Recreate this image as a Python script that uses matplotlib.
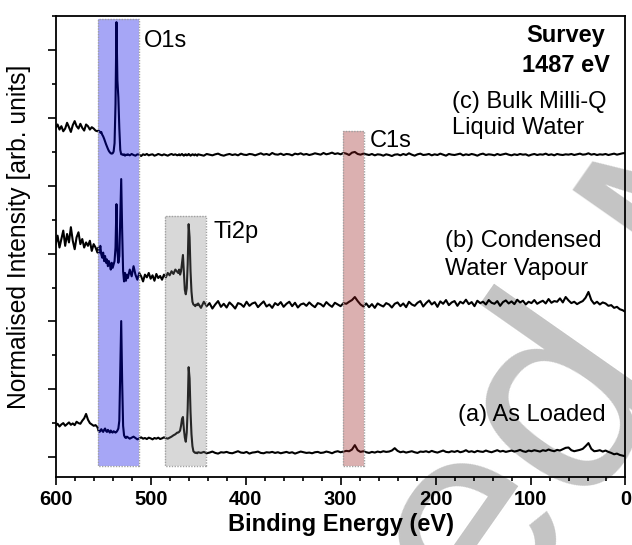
import numpy as np
import matplotlib.pyplot as plt
from matplotlib.patches import Rectangle
from matplotlib.ticker import MultipleLocator

plt.rcParams['font.family'] = ['Liberation Sans', 'DejaVu Sans']

# --- Binding energy grid (eV), denser around the O1s and Ti2p peaks ---
energy = np.array(list(range(600, 555, -2)) + list(range(555, 524, -1)) +
                  list(range(524, 471, -2)) + list(range(471, 450, -1)) +
                  list(range(450, -1, -3)), dtype=float)

# --- Spectra, relative to their own baseline (arb. units) ---
as_loaded = [
    # 600 - 556
    0.80, 0.86, 0.78, 0.84, 0.88, 0.80, 0.85, 0.90, 0.83, 0.87, 0.82, 0.92,
    0.88, 0.86, 0.95, 1.02, 1.15, 0.98, 0.88, 0.84, 0.80, 0.82, 0.76,
    # 555 - 525
    0.66, 0.62, 0.64, 0.70, 0.66, 0.62, 0.68, 0.72, 0.65, 0.62, 0.68, 0.64,
    0.60, 0.66, 0.62, 0.60, 0.64, 0.62, 0.60, 0.62, 0.66, 0.72, 0.95, 2.40,
    3.89, 2.10, 0.80, 0.52, 0.46, 0.44, 0.48,
    # 524 - 472
    0.46, 0.42, 0.45, 0.48, 0.44, 0.40, 0.43, 0.46, 0.42, 0.44, 0.41, 0.45,
    0.43, 0.40, 0.44, 0.42, 0.45, 0.41, 0.43, 0.46, 0.44, 0.42, 0.45, 0.48,
    0.52, 0.55, 0.60,
    # 471 - 451
    0.60, 0.62, 0.66, 0.80, 1.00, 1.06, 0.70, 0.45, 0.33, 0.60, 1.30, 2.53,
    2.20, 1.20, 0.55, 0.20, 0.05, 0.02, 0.00, 0.01, -0.01,
    # 450 - 0
    0.02, 0.00, 0.03, -0.01, 0.01, 0.04, 0.00, -0.02, 0.02, 0.01,
    0.03, 0.00, -0.01, 0.02, 0.05, 0.01, 0.00, 0.03, -0.02, 0.01,
    0.02, 0.04, 0.00, -0.01, 0.02, 0.01, 0.03, 0.00, 0.02, -0.01,
    0.01, 0.03, 0.00, 0.02, -0.02, 0.01, 0.04, 0.02, 0.00, 0.01,
    -0.01, 0.02, 0.03, 0.00, 0.01, 0.04, 0.02, -0.01, 0.03, 0.05,
    0.02, 0.04, 0.06, 0.05, 0.10, 0.23, 0.08, 0.03, 0.05, 0.02,
    0.00, 0.03, 0.01, 0.04, 0.02, 0.05, 0.03, 0.04, 0.07, 0.14,
    0.06, 0.02, 0.04, 0.01, 0.03, 0.05, 0.02, 0.00, 0.04, 0.03,
    0.05, 0.02, 0.06, 0.03, 0.01, 0.04, 0.07, 0.03, 0.02, 0.05,
    0.03, 0.06, 0.02, 0.04, 0.08, 0.03, 0.05, 0.02, 0.06, 0.04,
    0.03, 0.07, 0.04, 0.02, 0.05, 0.08, 0.04, 0.06, 0.03, 0.05,
    0.07, 0.04, 0.06, 0.09, 0.05, 0.03, 0.07, 0.05, 0.08, 0.06,
    0.04, 0.08, 0.06, 0.10, 0.07, 0.05, 0.09, 0.07, 0.11, 0.15,
    0.16, 0.08, 0.05, 0.07, 0.09, 0.12, 0.20, 0.29, 0.12, 0.05,
    0.06, 0.08, 0.04, 0.07, 0.03, 0.00, -0.04, -0.02, -0.06, -0.08, -0.10,
]

condensed_vapour = [
    # 600 - 556
    1.80, 2.05, 1.70, 1.95, 2.20, 1.75, 2.10, 1.85, 2.30, 1.90, 1.65, 2.00,
    2.15, 1.80, 1.95, 1.70, 1.85, 1.75, 1.90, 1.60, 1.80, 1.70, 1.55,
    # 555 - 525
    1.70, 1.55, 1.75, 1.50, 1.40, 1.55, 1.30, 1.45, 1.25, 1.35, 1.15, 1.30,
    1.20, 1.05, 1.25, 1.10, 1.20, 1.30, 1.70, 2.98, 1.60, 1.25, 1.45, 2.60,
    3.72, 2.20, 1.00, 0.70, 0.95, 0.72, 0.90,
    # 524 - 472
    0.80, 1.05, 0.85, 1.15, 0.90, 0.75, 0.95, 0.85, 0.70, 0.90, 0.82, 0.95,
    0.78, 0.88, 0.72, 0.92, 0.80, 0.86, 0.75, 0.90, 0.82, 0.95, 0.88, 1.00,
    0.92, 1.05, 0.98,
    # 471 - 451
    0.95, 1.05, 0.90, 1.00, 1.25, 1.48, 0.95, 0.45, 0.32, 0.50, 1.20, 2.39,
    2.00, 1.00, 0.40, 0.10, 0.02, 0.00, -0.03, 0.02, 0.00,
    # 450 - 0
    0.05, -0.08, 0.10, -0.03, 0.06, -0.10, 0.02, 0.12, -0.05, 0.04,
    -0.07, 0.08, 0.00, -0.10, 0.06, 0.03, -0.05, 0.10, -0.02, 0.05,
    0.08, -0.06, 0.03, 0.11, -0.04, 0.02, -0.08, 0.06, 0.00, 0.09,
    -0.05, 0.04, 0.10, -0.03, 0.07, -0.07, 0.02, 0.05, -0.02, 0.08,
    0.00, -0.06, 0.06, 0.03, -0.04, 0.09, 0.01, -0.05, 0.07, 0.02,
    -0.03, 0.06, 0.04, 0.10, 0.15, 0.24, 0.12, 0.02, -0.04, 0.05,
    -0.06, 0.03, -0.08, 0.05, 0.00, -0.04, 0.06, 0.02, -0.07, 0.04,
    0.08, -0.03, 0.05, -0.06, 0.10, 0.02, -0.02, 0.07, 0.12, -0.04,
    0.06, 0.14, 0.02, 0.09, -0.05, 0.11, 0.04, 0.15, 0.00, 0.08,
    0.12, -0.02, 0.10, 0.05, 0.16, 0.03, 0.09, -0.03, 0.13, 0.06,
    0.10, 0.02, 0.15, 0.07, 0.04, 0.12, -0.02, 0.09, 0.14, 0.05,
    0.11, 0.03, 0.16, 0.08, 0.13, 0.02, 0.10, 0.06, 0.15, 0.04,
    0.09, 0.13, 0.05, 0.18, 0.07, 0.12, 0.10, 0.20, 0.08, 0.24,
    0.14, 0.06, 0.10, 0.03, 0.08, 0.12, 0.22, 0.39, 0.15, 0.04,
    0.10, 0.02, 0.08, 0.05, -0.02, 0.00, -0.08, -0.05, -0.12, -0.15, -0.20,
]

bulk_water = [
    # 600 - 556
    0.80, 0.90, 0.75, 0.85, 0.70, 0.78, 0.95, 0.82, 0.68, 0.88, 1.00, 0.85,
    0.78, 0.92, 0.80, 0.72, 0.90, 0.85, 0.75, 0.82, 0.78, 0.72, 0.70,
    # 555 - 525
    0.72, 0.70, 0.66, 0.68, 0.60, 0.55, 0.48, 0.40, 0.32, 0.25, 0.18, 0.12,
    0.08, 0.05, 0.04, 0.05, 0.10, 0.35, 1.50, 3.92, 2.20, 1.70, 0.80, 0.15,
    0.02, 0.02, 0.00, 0.02, -0.02, 0.01, 0.00,
    # 524 - 472
    0.02, -0.01, 0.03, 0.00, -0.02, 0.02, 0.01, -0.03, 0.02, 0.00, 0.03, -0.01,
    0.01, 0.02, -0.02, 0.00, 0.03, 0.01, -0.01, 0.02, 0.00, -0.02, 0.01, 0.03,
    0.00, 0.02, -0.01,
    # 471 - 451
    0.00, 0.02, -0.01, 0.01, 0.03, 0.00, -0.02, 0.01, 0.02, -0.01, 0.00, 0.03,
    0.01, -0.02, 0.00, 0.02, 0.01, -0.01, 0.02, 0.00, -0.02,
    # 450 - 0
    0.02, 0.00, -0.02, 0.03, 0.01, -0.01, 0.02, 0.04, 0.00, -0.02,
    0.01, 0.03, 0.00, 0.02, -0.01, 0.04, 0.01, 0.00, 0.03, 0.02,
    -0.01, 0.02, 0.05, 0.01, 0.03, 0.00, 0.06, 0.02, 0.01, 0.04,
    0.00, 0.03, 0.02, -0.01, 0.04, 0.02, 0.05, 0.01, 0.03, 0.00,
    0.02, 0.05, 0.03, 0.01, 0.06, 0.02, 0.04, 0.07, 0.03, 0.05,
    0.02, 0.06, 0.04, 0.00, 0.07, 0.09, 0.03, 0.01, 0.04, 0.02,
    0.00, 0.03, -0.01, 0.02, 0.01, -0.02, 0.02, 0.00, -0.03, 0.01,
    0.02, -0.01, 0.03, 0.00, 0.05, 0.01, -0.02, 0.02, 0.04, 0.00,
    0.01, 0.03, -0.01, 0.02, 0.00, 0.04, 0.01, -0.02, 0.03, 0.01,
    0.00, 0.02, 0.04, -0.01, 0.02, 0.00, 0.03, 0.01, -0.02, 0.02,
    0.04, 0.00, 0.02, 0.01, -0.01, 0.03, 0.00, 0.02, 0.04, 0.01,
    -0.01, 0.02, 0.00, 0.03, 0.01, 0.02, -0.02, 0.01, 0.03, 0.00,
    0.02, 0.01, 0.04, 0.00, 0.02, -0.01, 0.03, 0.01, 0.00, 0.02,
    0.01, 0.03, 0.00, 0.02, 0.04, 0.01, 0.02, 0.05, 0.01, 0.03,
    0.00, 0.02, 0.01, 0.03, 0.00, 0.02, 0.04, 0.01, 0.03, 0.05, 0.06,
]

spectra = [as_loaded, condensed_vapour, bulk_water]
offsets = [0.12, 4.48, 8.91]  # vertical stacking of the three spectra

# Highlighted core-level regions: (label, E_high, E_low, y_top, colour, alpha)
regions = [("O1s", 555, 512, 12.92, (0.0, 0.0, 0.9), 0.35),
           ("Ti2p", 485, 442, 7.11, (0.5, 0.5, 0.5), 0.30),
           ("C1s", 297, 275.5, 9.62, (0.6, 0.12, 0.12), 0.35)]
region_bottom = -0.28

fig = plt.figure(figsize=(6.32, 5.45), dpi=100)
ax = fig.add_axes([0.0881, 0.1248, 0.9016, 0.8464])
ax.set_facecolor('none')

# journal watermark, sits behind the axes content
fig.text(-0.010, -1.492, "Accepted Manuscript", fontsize=205, color='#c4c4c4',
         rotation=55, rotation_mode='anchor', ha='left', va='baseline', zorder=-5)

for vals, off in zip(spectra, offsets):
    ax.plot(energy, np.array(vals) + off, color='black', lw=1.5, zorder=2)

for name, e_hi, e_lo, top, col, alpha in regions:
    ax.add_patch(Rectangle((e_lo, region_bottom), e_hi - e_lo, top - region_bottom,
                           facecolor=col, alpha=alpha, edgecolor='none', zorder=3))
    ax.add_patch(Rectangle((e_lo, region_bottom), e_hi - e_lo, top - region_bottom,
                           facecolor='none', edgecolor='#a0a0a0', lw=1.0,
                           linestyle=(0, (1, 1)), zorder=4))

# --- Annotations ---
fs = 17
ax.text(507, 12.09, "O1s", fontsize=fs)
ax.text(434, 6.46, "Ti2p", fontsize=fs)
ax.text(269, 9.14, "C1s", fontsize=fs)
ax.text(62.7, 12.24, "Survey", fontsize=fs, fontweight='bold', ha='center')
ax.text(62.7, 11.36, "1487 eV", fontsize=fs, fontweight='bold', ha='center')
ax.text(183, 10.29, "(c) Bulk Milli-Q", fontsize=fs)
ax.text(183, 9.52, "Liquid Water", fontsize=fs)
ax.text(190, 6.19, "(b) Condensed", fontsize=fs)
ax.text(190, 5.37, "Water Vapour", fontsize=fs)
ax.text(176.5, 1.06, "(a) As Loaded", fontsize=fs)

# --- Axes formatting ---
ax.set_xlim(600, 0)
ax.set_ylim(-0.59, 13.02)
ax.xaxis.set_major_locator(MultipleLocator(100))
ax.xaxis.set_minor_locator(MultipleLocator(20))
ax.yaxis.set_major_locator(MultipleLocator(2))
ax.yaxis.set_minor_locator(MultipleLocator(1))
ax.tick_params(which='major', direction='out', length=6, width=1.2,
               top=False, right=False, labelsize=14.5)
ax.tick_params(which='minor', direction='out', length=3, width=1.2,
               top=False, right=False)
ax.set_yticklabels([])
for lab in ax.get_xticklabels():
    lab.set_fontweight('bold')
for sp in ax.spines.values():
    sp.set_linewidth(1.3)

ax.set_xlabel("Binding Energy (eV)", fontsize=17, fontweight='bold', labelpad=3)
ax.set_ylabel("Normalised Intensity [arb. units]", fontsize=17.7)
ax.yaxis.set_label_coords(-0.043, 0.52)

fig.savefig("out.png", dpi=100)
